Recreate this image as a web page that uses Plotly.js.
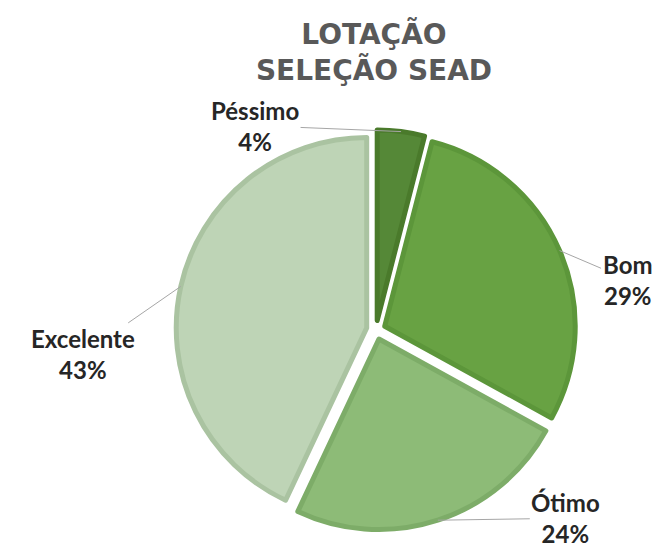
<!DOCTYPE html>
<html>
<head>
<meta charset="utf-8">
<script src="https://cdn.plot.ly/plotly-3.0.1.min.js"></script>
<style>html,body{margin:0;padding:0;background:#fff;}#chart{width:661px;height:550px;}</style>
</head>
<body>
<div id="chart"></div>
<script>
// ---- data ----
const labels = ['Péssimo', 'Bom', 'Ótimo', 'Excelente'];
const values = [4, 29, 24, 43];
const titleLines = ['LOTAÇÃO', 'SELEÇÃO SEAD'];

// ---- styling ----
const fillColors = ['#558837', '#68a243', '#8dbb77', '#bed4b6'];
const lineColors = ['#4a7a2b', '#5c963a', '#7dac68', '#aac3a1'];
const labelOffsets = [[-146, -6], [68, 29], [128, -2], [-98, 68]]; // text offset from slice edge, px
const W = 661, H = 550;
const PULL = 0.05;
const dom = {x: [176 / W, 576 / W], y: [20 / H, 420 / H]};

// pie geometry (mirrors Plotly's layout of the pie) for leader-line anchors
const cx = (dom.x[0] + dom.x[1]) / 2 * W;
const cy = (1 - (dom.y[0] + dom.y[1]) / 2) * H;
const boxW = (dom.x[1] - dom.x[0]) * W, boxH = (dom.y[1] - dom.y[0]) * H;
const r = Math.min(boxW, boxH) / (2 + 2 * PULL);
const total = values.reduce((a, b) => a + b, 0);

let cum = 0;
const annotations = labels.map((lab, i) => {
  const mid = (cum + values[i] / 2) / total * 2 * Math.PI;
  cum += values[i];
  const R = r * (1 + PULL);
  const px = cx + R * Math.sin(mid);
  const py = cy - R * Math.cos(mid);
  const pct = Math.round(values[i] / total * 100) + '%';
  return {
    xref: 'paper', yref: 'paper',
    x: px / W, y: 1 - py / H,
    text: '<b>' + lab + '</b><br><b>' + pct + '</b>',
    showarrow: true, arrowhead: 0, arrowwidth: 1, arrowcolor: '#a6a6a6',
    ax: labelOffsets[i][0], ay: labelOffsets[i][1],
    align: 'center',
    font: {family: 'Lato, "Open Sans", sans-serif', size: 24, color: '#262626'}
  };
});

const trace = {
  type: 'pie',
  labels: labels,
  values: values,
  sort: false,
  direction: 'clockwise',
  rotation: 0,
  pull: PULL,
  textinfo: 'none',
  hoverinfo: 'none',
  domain: dom,
  marker: {colors: fillColors, line: {color: lineColors, width: 5}}
};

const layout = {
  width: W, height: H,
  margin: {l: 0, r: 0, t: 0, b: 0},
  showlegend: false,
  paper_bgcolor: '#ffffff',
  title: {
    text: '<b>' + titleLines.join('</b><br><b>') + '</b>',
    font: {family: '"DejaVu Sans", sans-serif', size: 28, color: '#595959'},
    x: 374 / W, xanchor: 'center', xref: 'paper',
    y: 1 - 44 / H, yanchor: 'top', yref: 'container'
  },
  annotations: annotations
};

Plotly.newPlot('chart', [trace], layout, {staticPlot: true});
</script>
</body>
</html>
